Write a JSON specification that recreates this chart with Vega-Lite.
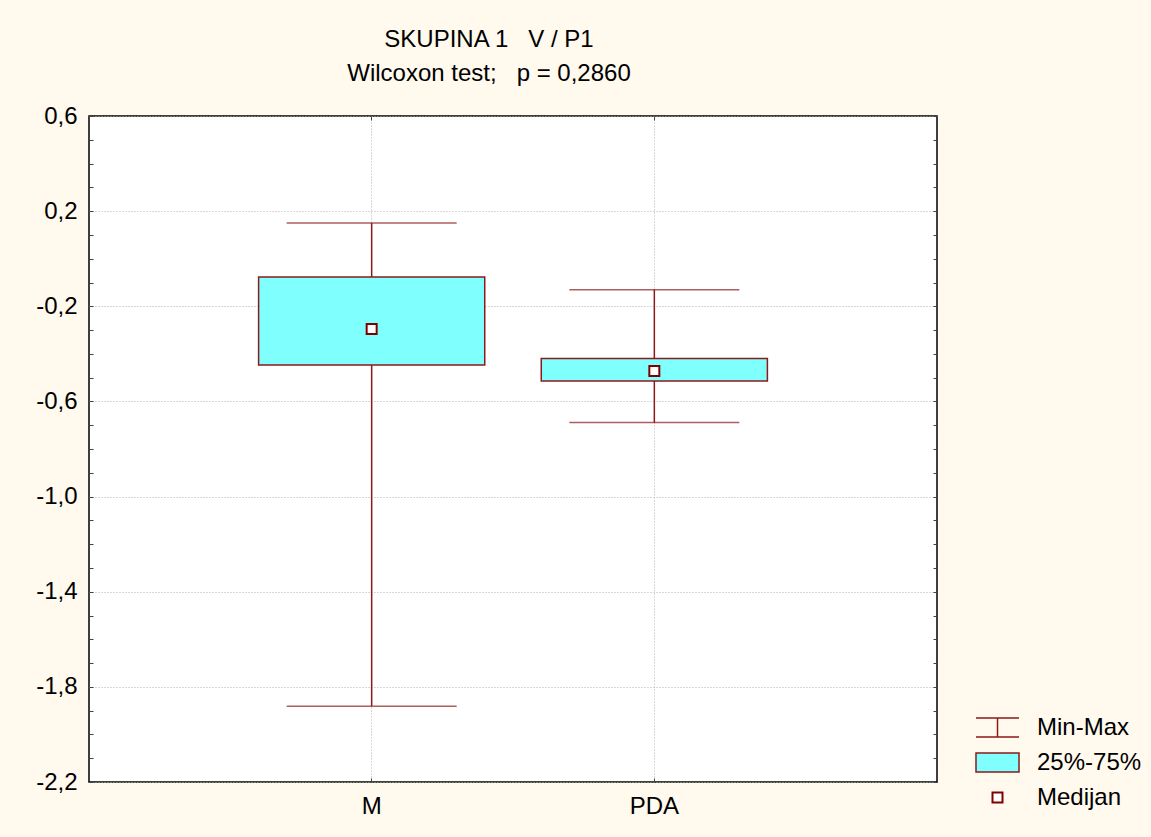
{
  "$schema": "https://vega.github.io/schema/vega-lite/v6.json",
  "autosize": {"type": "none"},
  "padding": {"left": 89, "top": 116, "right": 214, "bottom": 55},
  "width": 848,
  "height": 666,
  "background": "#FFF9EE",
  "config": {
    "font": "Liberation Sans",
    "view": {"fill": "#FFFFFF", "stroke": "#000000", "strokeWidth": 1.5},
    "locale": {"number": {"decimal": ",", "thousands": ".", "grouping": [3], "currency": ["", " €"], "minus": "-"}},
    "axis": {"labelFont": "Liberation Sans", "labelColor": "#000000", "tickColor": "#444444", "tickWidth": 1},
    "legend": {"labelFont": "Liberation Sans", "labelFontSize": 24, "labelColor": "#000000", "labelOffset": 24, "padding": 0, "symbolSize": 841, "title": null, "orient": "none"}
  },
  "title": {
    "text": ["SKUPINA 1\u00a0\u00a0\u00a0V / P1", "Wilcoxon test;\u00a0\u00a0\u00a0p = 0,2860"],
    "fontSize": 24,
    "fontWeight": "normal",
    "color": "#000000",
    "anchor": "middle",
    "dx": -24,
    "lineHeight": 34,
    "offset": 18
  },
  "data": {
    "values": [
      {"group": "M", "min": -1.882, "q1": -0.447, "median": -0.295, "q3": -0.077, "max": 0.150},
      {"group": "PDA", "min": -0.689, "q1": -0.514, "median": -0.472, "q3": -0.420, "max": -0.130}
    ]
  },
  "resolve": {
    "axis": {"x": "independent", "y": "independent"},
    "scale": {"stroke": "independent"},
    "legend": {"stroke": "independent"}
  },
  "layer": [
    {
      "mark": {"type": "rule", "strokeWidth": 1.5},
      "encoding": {
        "x": {
          "field": "group", "type": "nominal",
          "scale": {"type": "band", "domain": ["M", "PDA"], "paddingInner": 0.2, "paddingOuter": 0.6},
          "axis": {"title": null, "orient": "bottom", "labelFontSize": 24, "labelAngle": 0, "labelPadding": 16, "tickSize": -4, "domain": false, "grid": true, "gridDash": [1, 2], "gridColor": "#B0B0B0"}
        },
        "y": {
          "field": "min", "type": "quantitative",
          "scale": {"domain": [-2.2, 0.6], "nice": false, "zero": false},
          "axis": {
            "title": null, "orient": "left",
            "values": [-2.2, -2.1, -2.0, -1.9, -1.8, -1.7, -1.6, -1.5, -1.4, -1.3, -1.2, -1.1, -1.0, -0.9, -0.8, -0.7, -0.6, -0.5, -0.4, -0.3, -0.2, -0.1, 0.0, 0.1, 0.2, 0.3, 0.4, 0.5, 0.6],
            "format": ".1f",
            "labelExpr": "(round(datum.value*10)+22)%4==0 ? datum.label : ''",
            "labelFontSize": 24, "labelPadding": 16, "tickSize": -4, "domain": false,
            "grid": true, "gridDash": [1, 2], "gridColor": "#B0B0B0",
            "gridOpacity": {"condition": {"test": "(round(datum.value*10)+22)%4==0", "value": 1}, "value": 0}
          }
        },
        "y2": {"field": "max"},
        "stroke": {
          "datum": "Min-Max", "type": "nominal",
          "scale": {"domain": ["Min-Max"], "range": ["#8B1A1A"]},
          "legend": {
            "legendX": 893, "legendY": 596,
            "symbolType": "M-1.483,-0.655H1.483M0,-0.655V0.655M-1.483,0.655H1.483",
            "symbolStrokeWidth": 1.5, "symbolFillColor": "transparent"
          }
        }
      }
    },
    {
      "mark": {"type": "bar", "stroke": "#8B1A1A", "strokeWidth": 1.5},
      "encoding": {
        "x": {
          "field": "group", "type": "nominal",
          "axis": {"title": null, "orient": "top", "labels": false, "tickSize": -4, "domain": false, "grid": false}
        },
        "y": {
          "field": "q1", "type": "quantitative",
          "axis": {
            "title": null, "orient": "right", "labels": false, "domain": false, "grid": false, "tickSize": -4,
            "values": [-2.2, -2.1, -2.0, -1.9, -1.8, -1.7, -1.6, -1.5, -1.4, -1.3, -1.2, -1.1, -1.0, -0.9, -0.8, -0.7, -0.6, -0.5, -0.4, -0.3, -0.2, -0.1, 0.0, 0.1, 0.2, 0.3, 0.4, 0.5, 0.6]
          }
        },
        "y2": {"field": "q3"},
        "fill": {
          "datum": "25%-75%", "type": "nominal",
          "scale": {"domain": ["25%-75%"], "range": ["#80FFFF"]},
          "legend": {
            "legendX": 893, "legendY": 631,
            "symbolType": "M-1.483,-0.655H1.483V0.655H-1.483Z",
            "symbolStrokeWidth": 1.5, "symbolStrokeColor": "#8B1A1A"
          }
        }
      }
    },
    {
      "mark": {"type": "tick", "color": "#8B1A1A", "thickness": 1.5, "size": 170, "orient": "horizontal"},
      "encoding": {
        "x": {"field": "group", "type": "nominal", "axis": null},
        "y": {"field": "min", "type": "quantitative", "axis": null}
      }
    },
    {
      "mark": {"type": "tick", "color": "#8B1A1A", "thickness": 1.5, "size": 170, "orient": "horizontal"},
      "encoding": {
        "x": {"field": "group", "type": "nominal", "axis": null},
        "y": {"field": "max", "type": "quantitative", "axis": null}
      }
    },
    {
      "mark": {"type": "point", "shape": "square", "filled": false, "fill": "#FFFFFF", "fillOpacity": 1, "strokeWidth": 2, "size": 100, "opacity": 1},
      "encoding": {
        "x": {"field": "group", "type": "nominal", "axis": null},
        "y": {"field": "median", "type": "quantitative", "axis": null},
        "stroke": {
          "datum": "Medijan", "type": "nominal",
          "scale": {"domain": ["Medijan"], "range": ["#7F0000"]},
          "legend": {
            "legendX": 893, "legendY": 666,
            "symbolType": "M-0.345,-0.345H0.345V0.345H-0.345Z",
            "symbolStrokeWidth": 2, "symbolFillColor": "#FFFFFF", "symbolOpacity": 1
          }
        }
      }
    }
  ]
}
